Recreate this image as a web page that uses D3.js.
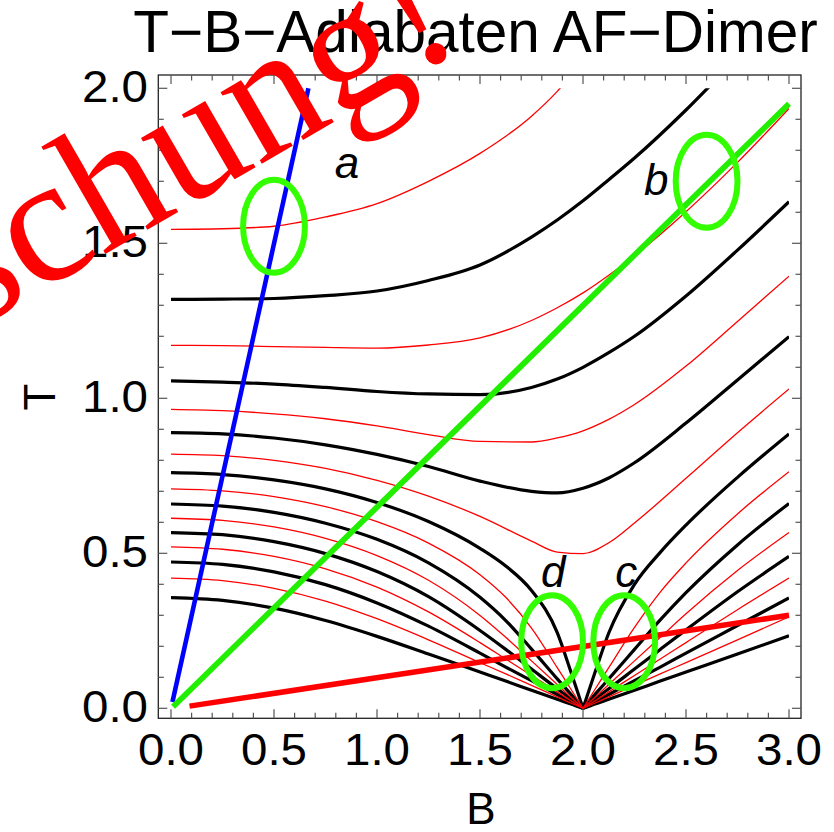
<!DOCTYPE html>
<html><head><meta charset="utf-8">
<script src="https://cdn.jsdelivr.net/npm/d3@7"></script>
<style>body{margin:0;background:#fff}svg{display:block}</style>
</head><body>
<svg id="chart" width="834" height="832"></svg>
<script>
// ---------------- data ----------------
const gridFull  = [0, 0.25, 0.5, 0.75, 1, 1.25, 1.5, 1.75, 1.875, 2, 2.125, 2.25, 2.5, 2.75, 3];
const gridLeft  = [0, 0.25, 0.5, 0.75, 1, 1.25, 1.5, 1.625, 1.75, 1.875, 1.9375, 2];
const gridRight = [2, 2.0625, 2.125, 2.25, 2.375, 2.5, 2.75, 3];

// adiabats that stay above T=0 (on gridFull)
const R1 = [1.545,1.547,1.555,1.585,1.628,1.70,1.79,1.91,1.99,2.09,2.18,2.28,2.47,2.66,2.85];
const K1 = [1.319,1.320,1.322,1.331,1.346,1.38,1.43,1.52,1.575,1.637,1.705,1.775,1.93,2.10,2.27];
const R2 = [1.171,1.170,1.167,1.164,1.162,1.172,1.195,1.251,1.292,1.34,1.397,1.46,1.602,1.761,1.935];
const K2 = [1.056,1.052,1.046,1.035,1.022,1.014,1.012,1.035,1.062,1.10,1.147,1.20,1.33,1.478,1.634];
const R3 = [0.964,0.960,0.950,0.934,0.911,0.883,0.861,0.859,0.872,0.895,0.932,0.98,1.104,1.248,1.394];
const K3 = [0.889,0.885,0.872,0.850,0.819,0.780,0.733,0.700,0.695,0.710,0.743,0.792,0.920,1.059,1.199];
const R4 = [0.820,0.815,0.800,0.774,0.7355,0.6845,0.619,0.5395,0.504,0.499,0.534,0.598,0.742,0.889,1.03];

// adiabats ending in the cusp at B=2, T=0 : left branch (gridLeft) and right branch (gridRight)
const K4L = [0.760,0.754,0.737,0.708,0.664,0.6025,0.516,0.459,0.380,0.244,0.125,0];
const R5L = [0.708,0.7015,0.683,0.6505,0.602,0.533,0.431,0.358,0.259,0.131,0.0655,0];
const K5L = [0.659,0.652,0.632,0.597,0.545,0.469,0.358,0.283,0.191,0.095,0.048,0];
const R6L = [0.613,0.606,0.585,0.548,0.4925,0.413,0.2995,0.229,0.153,0.0765,0.038,0];
const K6L = [0.567,0.560,0.5375,0.499,0.441,0.360,0.251,0.190,0.1265,0.063,0.032,0];
const R7L = [0.521,0.513,0.490,0.450,0.391,0.311,0.212,0.159,0.106,0.053,0.026,0];
const K7L = [0.472,0.464,0.440,0.399,0.340,0.265,0.178,0.133,0.089,0.0445,0.022,0];
const R8L = [0.420,0.412,0.387,0.346,0.289,0.221,0.1475,0.111,0.074,0.037,0.018,0];
const K8L = [0.357,0.348,0.323,0.283,0.232,0.175,0.117,0.088,0.058,0.029,0.015,0];

const K4R = [0,0.124,0.243,0.400,0.503,0.591,0.745,0.885];
const R5R = [0,0.0655,0.131,0.261,0.375,0.469,0.627,0.763];
const K5R = [0,0.048,0.095,0.190,0.285,0.373,0.527,0.661];
const R6R = [0,0.038,0.0765,0.153,0.229,0.305,0.4445,0.567];
const K6R = [0,0.032,0.063,0.1265,0.190,0.253,0.376,0.490];
const R7R = [0,0.026,0.053,0.106,0.159,0.212,0.318,0.420];
const K7R = [0,0.022,0.0445,0.089,0.133,0.178,0.267,0.356];
const R8R = [0,0.018,0.037,0.074,0.111,0.1475,0.221,0.295];
const K8R = [0,0.015,0.029,0.058,0.088,0.117,0.175,0.234];

// straight guide lines [B, T]
const blueLine  = [[0.007, 0.02], [0.667, 2.0]];
const greenLine = [[0.01, 0.005], [3.0, 1.95]];
const redLine   = [[0.09, 0.007], [3.0, 0.30]];

// marked regions: centre [B, T], radius (data units), label and its position
const markNames   = ["a", "b", "c", "d"];
const markCentres = [[0.50, 1.555], [2.60, 1.70], [2.20, 0.215], [1.85, 0.215]];
const markRadius  = 0.15;
const labelPos    = [[0.854, 1.71], [2.356, 1.656], [2.21, 0.392], [1.855, 0.392]];

const xTicks = [0, 0.5, 1, 1.5, 2, 2.5, 3];
const yTicks = [0, 0.5, 1, 1.5, 2];

// ---------------- drawing ----------------
const svg = d3.select("#chart");
const x = d3.scaleLinear().domain([0, 3]).range([171, 789]);
const y = d3.scaleLinear().domain([0, 2]).range([708.3, 88.3]);
const fx0 = 158.3, fx1 = 801, fy0 = 75, fy1 = 718.3;
const FONT = "'Liberation Sans', Arial, Helvetica, sans-serif";

svg.append("rect").attr("width", 834).attr("height", 832).attr("fill", "#fff");

// title
svg.append("text").attr("x", 475.5).attr("y", 52).attr("text-anchor", "middle")
  .attr("font-family", FONT).attr("font-size", 58.5).attr("fill", "#000")
  .text("T\u2212B\u2212Adiabaten AF\u2212Dimer");

// frame
svg.append("rect").attr("x", fx0).attr("y", fy0).attr("width", fx1 - fx0).attr("height", fy1 - fy0)
  .attr("fill", "none").attr("stroke", "#222").attr("stroke-width", 1.3);

// ticks (inside on all four sides)
const minorX = d3.range(0, 3.0001, 0.1), minorY = d3.range(0, 2.0001, 0.1);
function isMajor(v) { return Math.abs(v * 2 - Math.round(v * 2)) < 1e-6; }
const tk = svg.append("g").attr("stroke", "#555").attr("stroke-width", 1.2);
minorX.forEach(v => {
  const L = isMajor(v) ? 9 : 5.5, px = x(v);
  tk.append("line").attr("x1", px).attr("x2", px).attr("y1", fy1).attr("y2", fy1 - L);
  tk.append("line").attr("x1", px).attr("x2", px).attr("y1", fy0).attr("y2", fy0 + L);
});
minorY.forEach(v => {
  const L = isMajor(v) ? 9 : 5.5, py = y(v);
  tk.append("line").attr("x1", fx0).attr("x2", fx0 + L).attr("y1", py).attr("y2", py);
  tk.append("line").attr("x1", fx1).attr("x2", fx1 - L).attr("y1", py).attr("y2", py);
});

// tick labels
const fmt = d3.format(".1f");
svg.append("g").selectAll("text").data(xTicks).join("text")
  .attr("x", d => x(d)).attr("y", 765).attr("text-anchor", "middle")
  .attr("font-family", FONT).attr("font-size", 44)
  .attr("textLength", 66).attr("lengthAdjust", "spacingAndGlyphs").text(d => fmt(d));
svg.append("g").selectAll("text").data(yTicks).join("text")
  .attr("x", 148).attr("y", d => y(d) + 14).attr("text-anchor", "end")
  .attr("font-family", FONT).attr("font-size", 44)
  .attr("textLength", 66).attr("lengthAdjust", "spacingAndGlyphs").text(d => fmt(d));

// axis labels
svg.append("text").attr("x", 481).attr("y", 824).attr("text-anchor", "middle")
  .attr("font-family", FONT).attr("font-size", 44).text("B");
svg.append("text").attr("transform", "translate(55,397) rotate(-90)").attr("text-anchor", "middle")
  .attr("font-family", FONT).attr("font-size", 44).text("T");

// clip region = plot range
svg.append("defs").append("clipPath").attr("id", "pr").append("rect")
  .attr("x", x(0)).attr("y", y(2)).attr("width", x(3) - x(0)).attr("height", y(0) - y(2) + 4);

const line = d3.line().x(d => x(d[0])).y(d => y(d[1])).curve(d3.curveMonotoneX);
const zipB = (grid, T) => grid.map((b, i) => [b, T[i]]);

const blackCurves = [
  zipB(gridFull, K1), zipB(gridFull, K2), zipB(gridFull, K3),
  zipB(gridLeft, K4L), zipB(gridRight, K4R),
  zipB(gridLeft, K5L), zipB(gridRight, K5R),
  zipB(gridLeft, K6L), zipB(gridRight, K6R),
  zipB(gridLeft, K7L), zipB(gridRight, K7R),
  zipB(gridLeft, K8L), zipB(gridRight, K8R)
];
const redCurves = [
  zipB(gridFull, R1), zipB(gridFull, R2), zipB(gridFull, R3), zipB(gridFull, R4),
  zipB(gridLeft, R5L), zipB(gridRight, R5R),
  zipB(gridLeft, R6L), zipB(gridRight, R6R),
  zipB(gridLeft, R7L), zipB(gridRight, R7R),
  zipB(gridLeft, R8L), zipB(gridRight, R8R)
];

const plot = svg.append("g").attr("clip-path", "url(#pr)");
plot.selectAll("path.k").data(blackCurves).join("path").attr("class", "k")
  .attr("d", line).attr("fill", "none").attr("stroke", "#000").attr("stroke-width", 3.2);
plot.selectAll("path.r").data(redCurves).join("path").attr("class", "r")
  .attr("d", line).attr("fill", "none").attr("stroke", "#ff0000").attr("stroke-width", 1.3);

const straight = d3.line().x(d => x(d[0])).y(d => y(d[1]));
svg.append("path").attr("d", straight(redLine)).attr("stroke", "#ff0000").attr("stroke-width", 5.5).attr("fill", "none");
svg.append("path").attr("d", straight(blueLine)).attr("stroke", "#0000ff").attr("stroke-width", 4.6).attr("fill", "none");
svg.append("path").attr("d", straight(greenLine)).attr("stroke", "#22ee00").attr("stroke-width", 5.8).attr("fill", "none");

// marks
const rx = x(markRadius) - x(0), ry = y(0) - y(markRadius);
svg.append("g").selectAll("ellipse").data(markCentres).join("ellipse")
  .attr("cx", d => x(d[0])).attr("cy", d => y(d[1])).attr("rx", rx).attr("ry", ry)
  .attr("fill", "none").attr("stroke", "#33ff00").attr("stroke-width", 6);
svg.append("g").selectAll("text").data(markNames).join("text")
  .attr("x", (d, i) => x(labelPos[i][0])).attr("y", (d, i) => y(labelPos[i][1]))
  .attr("text-anchor", "middle").attr("font-family", FONT).attr("font-style", "italic")
  .attr("font-size", 44).text(d => d);

// overlay stamp
svg.append("text").attr("transform", "translate(-27.5,330.6) rotate(-30)").attr("text-anchor", "start")
  .attr("font-family", "'Liberation Serif', 'Times New Roman', serif").attr("font-size", 180)
  .attr("fill", "#ff0000").text("schung!");
</script>
</body></html>
